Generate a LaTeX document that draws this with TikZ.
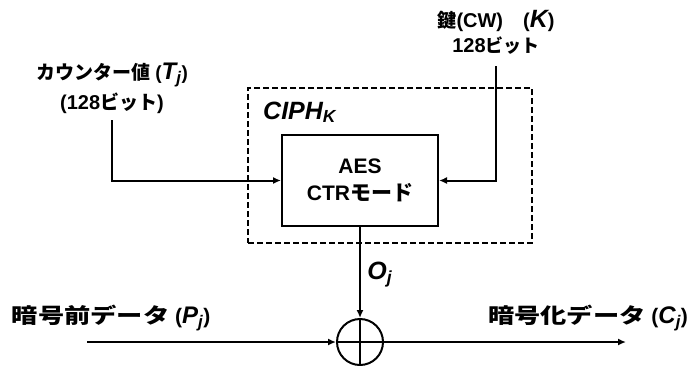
\documentclass[tikz,border=0pt]{standalone}
\usepackage{fontspec}
\setmainfont{Liberation Sans}
\newfontfamily\jpfont{Noto Sans CJK JP}
\newfontfamily\jpwide{Noto Sans CJK JP}[FakeStretch=1.25]
\usetikzlibrary{arrows.meta,calc,positioning}

\begin{document}
\begin{tikzpicture}[x=1pt,y=-1pt,font=\bfseries,
    flow/.style={-{Latex[length=8pt,width=7pt]},line width=2pt},
    lbl/.style={inner sep=0pt,align=center},
    sz/.style={font=\bfseries\fontsize{#1}{#1}\selectfont}]
  \useasboundingbox (0,0) rectangle (692,365);
  \node[draw,dash pattern=on 6pt off 3pt,line width=1.5pt,minimum width=284pt,minimum height=155pt] (ciph) at (390,165.5) {};
  \node[lbl,sz=25,anchor=base west] (ciphk) at (263,119) {\itshape CIPH\textsubscript{K}};
  \node[draw,line width=2pt,minimum width=156pt,minimum height=91pt,align=center,sz=21] (aes) at (360,180.5) {AES\\[6pt]CTR{\jpfont モード}};
  \node[lbl,sz=19] (cnt) at (112,88) {{\jpfont カウンター値} ({\itshape\fontsize{24}{24}\selectfont T\textsubscript{j}})\\[5pt]{\fontsize{20}{20}\selectfont(128}{\jpfont ビット}{\fontsize{20}{20}\selectfont)}};
  \node[lbl,sz=20] (key) at (496,32) {{\jpfont\fontsize{19}{19}\selectfont 鍵}(CW)\quad({\itshape\fontsize{25}{25}\selectfont K})\\[5pt]128{\jpfont\fontsize{18}{18}\selectfont ビット}};
  \node[circle,draw,line width=2pt,minimum size=46pt,inner sep=0pt] (xor) at (360,342) {};
  \draw[line width=2pt] (xor.north) -- (xor.south);
  \draw[line width=2pt] (xor.west) -- (xor.east);
  \node[lbl,sz=21] (plbl) at (111,318) {{\jpwide 暗号前データ} ({\itshape\fontsize{24}{24}\selectfont P\textsubscript{j}})};
  \node[lbl,sz=21] (clbl) at (588,318) {{\jpwide 暗号化データ} ({\itshape\fontsize{24}{24}\selectfont C\textsubscript{j}})};
  \coordinate (pin) at (87,342);
  \coordinate (cout) at (626,342);
  \draw[flow,shorten <=7pt] (cnt.south) |- (aes.west);
  \draw[flow,shorten <=12pt] (key.south) |- (aes.east);
  \draw[flow] (aes.south) -- node[right,sz=25,xshift=3pt,yshift=-2pt]{\itshape O\textsubscript{j}} (xor.north);
  \draw[flow] (pin) -- (xor.west);
  \draw[flow] (xor.east) -- (cout);
\end{tikzpicture}
\end{document}
